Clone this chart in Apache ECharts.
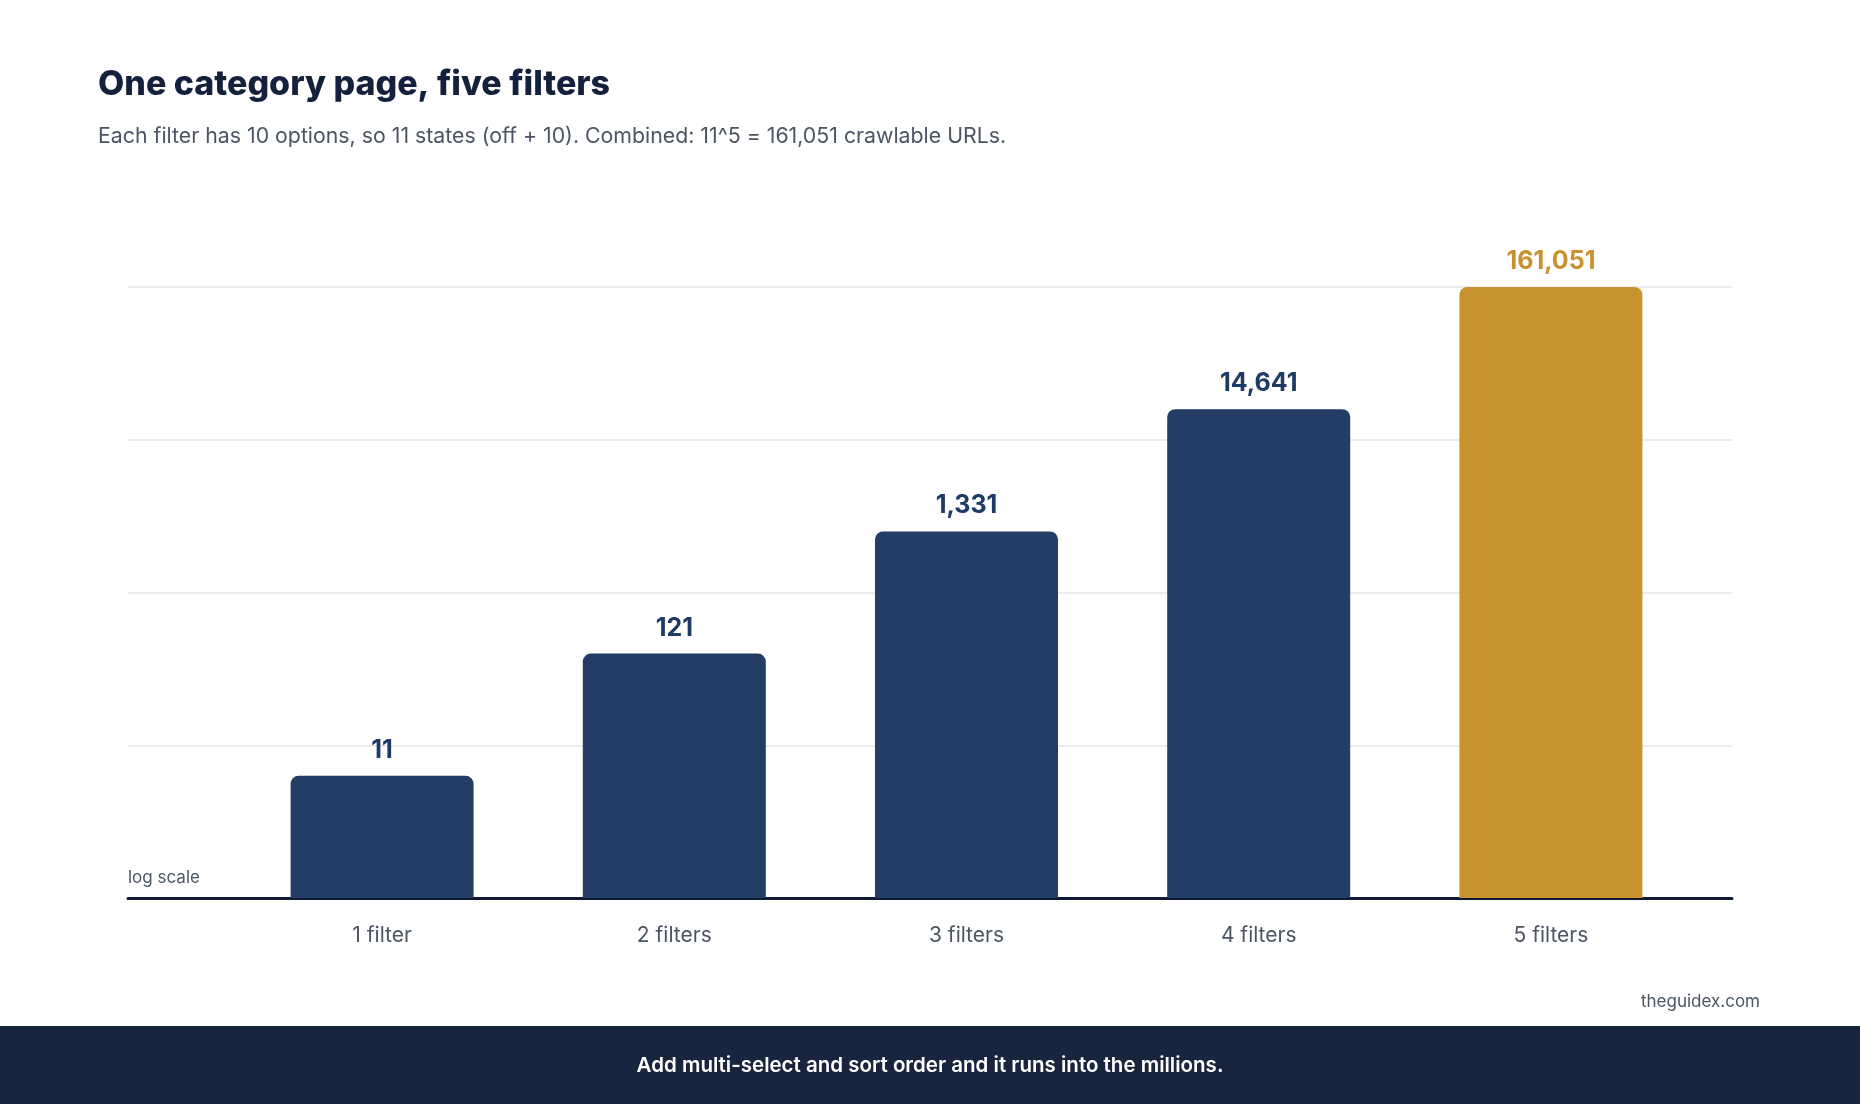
<!DOCTYPE html>
<html>
<head>
<meta charset="utf-8">
<title>One category page, five filters</title>
<script src="https://cdn.jsdelivr.net/npm/echarts@6/dist/echarts.min.js"></script>
<style>
  html, body {
    margin: 0;
    padding: 0;
    background: #ffffff;
  }

  #chart {
    width: 1860px;
    height: 1104px;
  }
</style>
</head>
<body>
<div id="chart"></div>
<script>
const categories = [
  "1 filter",
  "2 filters",
  "3 filters",
  "4 filters",
  "5 filters",
];

const urlCounts = [
  11,
  121,
  1331,
  14641,
  161051,
];

const highlightIndex = 4;

const NAVY = "#243d66";
const GOLD = "#c8932e";
const TEXT_DARK = "#14213d";
const TEXT_GREY = "#4b5563";
const FONT = "Inter, 'Noto Sans', sans-serif";

const logMax = 161051;

const chart = echarts.init(
  document.getElementById("chart"),
  null,
  { renderer: "canvas" },
);

chart.setOption({
  animation: false,
  backgroundColor: "#ffffff",
  textStyle: {
    fontFamily: FONT,
  },
  title: [
    {
      text: "One category page, five filters",
      left: 98,
      top: 68,
      padding: 0,
      textStyle: {
        fontFamily: FONT,
        fontSize: 34,
        fontWeight: 800,
        color: TEXT_DARK,
        lineHeight: 34,
      },
    },
    {
      text: "Each filter has 10 options, so 11 states (off + 10). Combined: 11^5 = 161,051 crawlable URLs.",
      left: 98,
      top: 126,
      padding: 0,
      textStyle: {
        fontFamily: FONT,
        fontSize: 21.3,
        fontWeight: 400,
        color: TEXT_GREY,
        lineHeight: 21,
      },
    },
  ],
  grid: [
    // full-width frame: gridlines and baseline
    {
      left: 128,
      right: 128,
      top: 287,
      bottom: 206,
    },
    // bars
    {
      left: 236,
      right: 163,
      top: 287,
      bottom: 206,
    },
  ],
  xAxis: [
    {
      gridIndex: 0,
      type: "value",
      min: 0,
      max: 1,
      axisLine: {
        show: true,
        onZero: false,
        lineStyle: {
          color: "#0f1b33",
          width: 3,
        },
      },
      axisTick: { show: false },
      axisLabel: { show: false },
      splitLine: { show: false },
    },
    {
      gridIndex: 1,
      type: "category",
      data: categories,
      axisLine: { show: false },
      axisTick: { show: false },
      axisLabel: {
        margin: 27,
        fontFamily: FONT,
        fontSize: 21,
        color: TEXT_GREY,
      },
    },
  ],
  yAxis: [
    {
      gridIndex: 0,
      type: "log",
      min: 1,
      max: logMax,
      interval: Math.log10(logMax) / 4,
      axisLine: { show: false },
      axisTick: { show: false },
      axisLabel: { show: false },
      splitLine: {
        show: true,
        lineStyle: {
          color: "#e3e6ea",
          width: 1.5,
        },
      },
    },
    {
      gridIndex: 1,
      type: "log",
      min: 1,
      max: logMax,
      show: false,
      splitLine: { show: false },
    },
  ],
  graphic: [
    {
      type: "text",
      left: 128,
      top: 869,
      style: {
        text: "log scale",
        fontFamily: FONT,
        fontSize: 17,
        fill: TEXT_GREY,
      },
    },
    {
      type: "text",
      right: 100,
      top: 993,
      style: {
        text: "theguidex.com",
        fontFamily: FONT,
        fontSize: 17,
        fill: TEXT_GREY,
      },
    },
    {
      type: "rect",
      left: 0,
      top: 1026,
      shape: {
        width: 1860,
        height: 78,
      },
      style: {
        fill: "#19253f",
      },
    },
    {
      type: "text",
      left: "center",
      top: 1055,
      style: {
        text: "Add multi-select and sort order and it runs into the millions.",
        fontFamily: FONT,
        fontSize: 20.5,
        fontWeight: 600,
        fill: "#ffffff",
      },
    },
  ],
  series: [
    {
      type: "bar",
      xAxisIndex: 1,
      yAxisIndex: 1,
      barWidth: 183,
      z: 1,
      data: urlCounts.map((value, index) => {
        const isHighlight = index === highlightIndex;

        return {
          value,
          itemStyle: {
            color: isHighlight ? GOLD : NAVY,
            borderRadius: [8, 8, 0, 0],
          },
          label: {
            color: isHighlight ? GOLD : "#1e3a66",
          },
        };
      }),
      label: {
        show: true,
        position: "top",
        distance: 13,
        fontFamily: FONT,
        fontSize: 25,
        fontWeight: 700,
        formatter: (params) => {
          return Number(params.value).toLocaleString("en-US");
        },
      },
    },
  ],
});
</script>
</body>
</html>
